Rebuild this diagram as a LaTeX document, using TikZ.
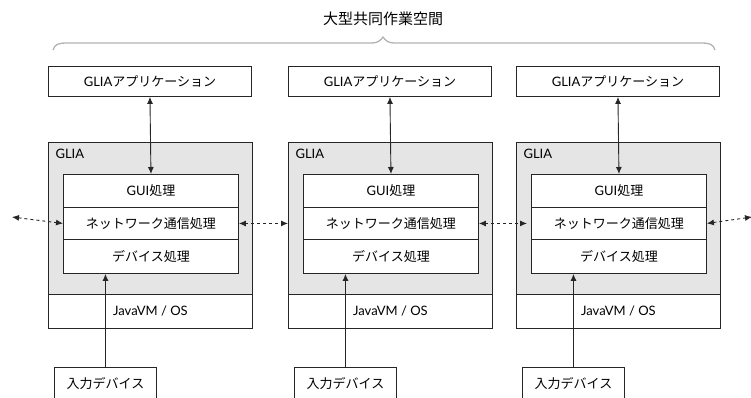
\documentclass[tikz,border=0pt]{standalone}
\usepackage{fontspec}
\setmainfont{Lato}
\newfontfamily\jp{Noto Sans CJK JP}
\usetikzlibrary{arrows.meta,calc}
\begin{document}
\begin{tikzpicture}[x=1pt,y=-1pt,
  line/.style={draw=black!85, line width=0.9pt},
  box/.style={line, fill=white, inner sep=0pt, anchor=north west, font=\fontsize{13}{15}\selectfont},
  graybox/.style={line, fill=black!10, inner sep=0pt, anchor=north west, minimum width=204pt, minimum height=152pt},
  arr/.style={line, -{Latex[length=7pt,width=6pt]}},
  darr/.style={line, {Latex[length=7pt,width=6pt]}-{Latex[length=7pt,width=6pt]}},
  dasharr/.style={darr, dash pattern=on 3pt off 3pt},
  brace/.style={draw=black!30, line width=1.3pt}
]
\useasboundingbox (0,0) rectangle (751,398);
\clip (0,0) rectangle (751,398);

% title and brace
\node[font=\jp\fontsize{15}{17}\selectfont] (title) at (383,19) {大型共同作業空間};
\draw[brace] (53,50) .. controls (55,44) and (58,43) .. (68,43) -- (372,43)
  .. controls (378,43) and (381,40) .. (383,37)
  .. controls (385,40) and (388,43) .. (394,43) -- (700,43)
  .. controls (710,43) and (713,44) .. (715,50);

\foreach \i/\x in {1/48,2/288,3/516}{
  \node[box, minimum width=203pt, minimum height=30pt] (app\i) at (\x,66) {GLIA{\jp アプリケーション}};
  \node[graybox] (glia\i) at (\x,142) {};
  \node[anchor=west, font=\fontsize{13}{15}\selectfont] (lab\i) at ($(\x,154)+(4,0)$) {GLIA};
  \node[box, minimum width=175pt, minimum height=33pt] (gui\i) at ($(\x,174)+(15,0)$) {GUI{\jp 処理}};
  \node[box, minimum width=175pt, minimum height=32pt] (net\i) at ($(\x,207)+(15,0)$) {\jp ネットワーク通信処理};
  \node[box, minimum width=175pt, minimum height=34pt] (dev\i) at ($(\x,239)+(15,0)$) {\jp デバイス処理};
  \node[box, minimum width=204pt, minimum height=34pt] (vm\i) at (\x,294) {JavaVM / OS};
  \node[box, minimum width=102pt, minimum height=33pt] (inp\i) at ($(\x,367)+(6,0)$) {\jp 入力デバイス};
  \draw[darr] (app\i.south) -- (gui\i.north);
  \draw[arr] (inp\i.north) -- (inp\i.north |- dev\i.south);
}

\coordinate (lend) at (12,217);
\coordinate (rend) at (752,217);
\draw[dasharr] (lend) -- (net1.west);
\draw[dasharr] (net1.east) -- (glia2.west |- net1.east);
\draw[dasharr] (net2.east) -- ($(net3.west)+(-4,0)$);
\draw[dasharr] (net3.east) -- (rend);
\end{tikzpicture}
\end{document}
